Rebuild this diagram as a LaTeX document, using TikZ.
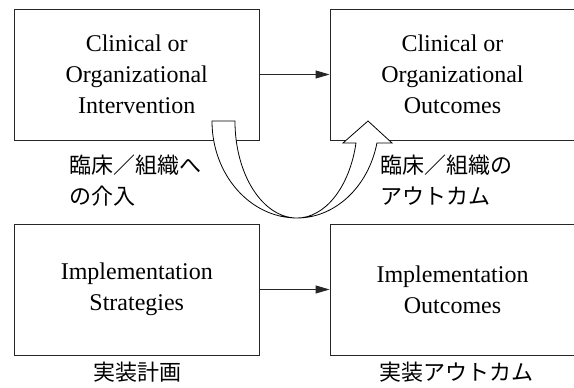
\documentclass[tikz,border=0pt]{standalone}
\usepackage{fontspec}
\setmainfont{Liberation Serif}
\newfontfamily\jpfont{Noto Sans CJK JP}
\usetikzlibrary{arrows.meta}

\begin{document}
\begin{tikzpicture}[x=1pt,y=1pt,
  frame/.style={draw=black!85, line width=0.9pt, minimum width=245pt,
    minimum height=131pt, inner sep=0pt},
  boxtext/.style={align=center, font=\fontsize{24}{31}\selectfont},
  jplabel/.style={align=left, font=\jpfont\fontsize{22}{31}\selectfont, inner sep=0pt},
  flow/.style={draw=black!85, line width=0.9pt, -{Triangle[length=14pt,width=8pt]}},
  bigarrow/.style={draw=black, line width=0.8pt, fill=white}
]
\clip (0,0) rectangle (574,388);
\fill[white] (0,0) rectangle (574,388);

% boxes
\node[frame] (ci) at (136.75,313.5) {};
\node[frame] (co) at (452.5,313.5) {};
\node[frame] (is) at (136.75,98.5) {};
\node[frame] (io) at (452.5,98.5) {};

% box texts
\node[boxtext] (ciT) at (ci.center) {Clinical or\\Organizational\\Intervention};
\node[boxtext] (coT) at (co.center) {Clinical or\\Organizational\\Outcomes};
\node[boxtext] (isT) at (is.center) {Implementation\\Strategies};
\node[boxtext] (ioT) at (io.center) {Implementation\\Outcomes};

% straight connectors
\draw[flow] (ci.east) -- (co.west);
\draw[flow] (is.east) -- (io.west);

% U-shaped block arrow from intervention to outcomes
\path[bigarrow] (212,267)
  arc[start angle=180, end angle=270, x radius=85, y radius=97]
  arc[start angle=270, end angle=346.9, x radius=82.1, y radius=97]
  -- (392,245) -- (368,267) -- (343,245) -- (356,245)
  arc[start angle=346.9, end angle=270, x radius=60.6, y radius=97]
  arc[start angle=270, end angle=180, x radius=62, y radius=97]
  -- cycle;

% Japanese labels
\node[jplabel, anchor=west] (jl1) at (69,207.5) {臨床／組織へ\\の介入};
\node[jplabel, anchor=west] (jl2) at (380,207.5) {臨床／組織の\\アウトカム};
\node[jplabel, anchor=center] (jl3) at (137,16) {実装計画};
\node[jplabel, anchor=center] (jl4) at (456,16) {実装アウトカム};
\end{tikzpicture}
\end{document}
